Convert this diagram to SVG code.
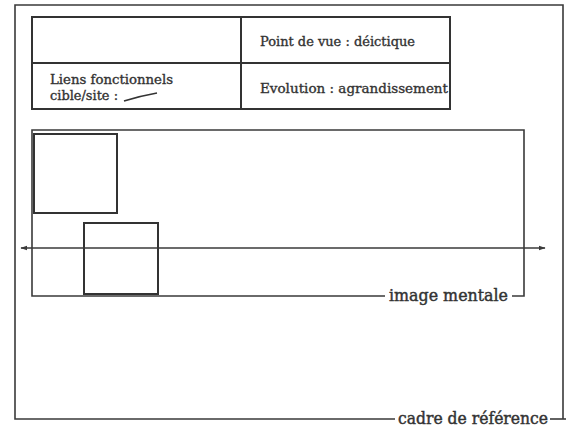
<svg xmlns="http://www.w3.org/2000/svg" width="566" height="432" viewBox="0 0 566 432">
  <defs>
    <style>
      .ln { fill: none; stroke: #3a3a3a; stroke-width: 1.6; }
      .bx { fill: none; stroke: #333; stroke-width: 2; }
      .t { font-family: "DejaVu Serif", "Liberation Serif", serif; fill: #333; stroke: #333; stroke-width: 0.35; }
      .sm { font-size: 12.5px; }
      .lg { font-size: 16.5px; stroke-width: 0.45; }
    </style>
    <marker id="ah" viewBox="0 0 10 10" refX="9" refY="5" markerWidth="7" markerHeight="7" orient="auto-start-reverse" markerUnits="userSpaceOnUse">
      <path d="M0,1.5 L10,5 L0,8.5 Z" fill="#3a3a3a"/>
    </marker>
  </defs>
  <rect width="566" height="432" fill="#fff"/>

  <g id="cadre-de-reference">
    <path class="ln" d="M395,419 H15 V5 H563 V419"/>
    <line class="ln" x1="550" y1="419" x2="566" y2="419"/>
    <text class="t lg" x="398" y="424" textLength="150" lengthAdjust="spacingAndGlyphs">cadre de référence</text>
  </g>

  <g id="table">
    <rect class="bx" x="32" y="17" width="418" height="92"/>
    <line class="bx" x1="32" y1="63" x2="450" y2="63"/>
    <line class="bx" x1="241" y1="17" x2="241" y2="109"/>
    <text class="t sm" x="260" y="46" textLength="155" lengthAdjust="spacingAndGlyphs">Point de vue : déictique</text>
    <text class="t sm" x="260" y="93" textLength="188" lengthAdjust="spacingAndGlyphs">Evolution :  agrandissement</text>
    <text class="t sm" x="50" y="84" textLength="123" lengthAdjust="spacingAndGlyphs">Liens fonctionnels</text>
    <text class="t sm" x="50" y="100" textLength="68" lengthAdjust="spacingAndGlyphs">cible/site :</text>
    <path d="M124,101 Q140,96 157,93" fill="none" stroke="#333" stroke-width="1.6"/>
  </g>

  <g id="image-mentale">
    <path class="ln" d="M385,296 H32 V130 H524 V296 H512"/>
    <text class="t lg" x="389" y="301" textLength="119" lengthAdjust="spacingAndGlyphs">image mentale</text>
  </g>

  <g id="carre-1">
    <rect class="bx" x="34" y="134" width="83" height="79"/>
  </g>

  <g id="carre-2">
    <rect class="bx" x="84" y="223" width="74" height="71"/>
  </g>

  <g id="connectors">
    <line class="ln" x1="21" y1="248" x2="545" y2="248" marker-start="url(#ah)" marker-end="url(#ah)"/>
  </g>
</svg>
